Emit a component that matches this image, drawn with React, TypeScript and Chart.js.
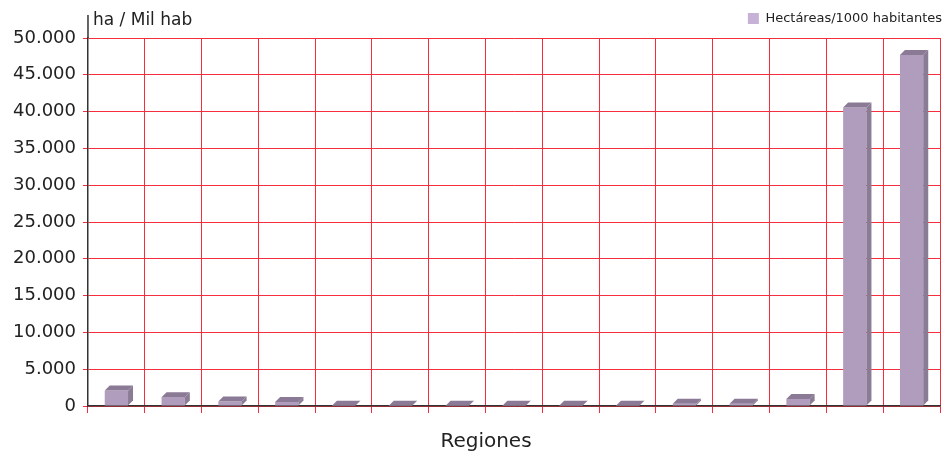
import React, { useEffect, useRef } from "react";
import { Chart, registerables } from "chart.js";
Chart.register(...registerables);

const categories = [
  "Arica y Parinacota", "Tarapacá", "Antofagasta", "Atacama", "Coquimbo",
  "Valparaíso", "Metropolitana", "O'Higgins", "Maule", "Biobío",
  "Araucanía", "Los Ríos", "Los Lagos", "Aysén", "Magallanes",
];
const haPerThousand = [2100, 1200, 600, 550, 40, 40, 40, 40, 40, 40, 300, 300, 950, 40550, 47700];
const yMin = 0;
const yMax = 50000;
const yStep = 5000;
const seriesLabel = "Hectáreas/1000 habitantes";
const yAxisLabel = "ha / Mil hab";
const xAxisTitle = "Regiones";

const FONT = "'DejaVu Sans', sans-serif";
const GRID = "rgb(245,45,60)";

const bar3d = {
  id: "bar3d",
  afterDatasetsDraw(chart: any) {
    const meta = chart.getDatasetMeta(0);
    const ctx = chart.ctx;
    const d = 5;
    meta.data.forEach((bar: any) => {
      const { x, y, base, width } = bar.getProps(["x", "y", "base", "width"], true);
      const l = x - width / 2;
      const r = x + width / 2;
      ctx.save();
      ctx.fillStyle = "#8a7c95";
      ctx.beginPath();
      ctx.moveTo(r, y);
      ctx.lineTo(r + d, y - d);
      ctx.lineTo(r + d, base - d);
      ctx.lineTo(r, base);
      ctx.closePath();
      ctx.fill();
      ctx.fillStyle = "#8b7a96";
      ctx.beginPath();
      ctx.moveTo(l, y);
      ctx.lineTo(l + d, y - d);
      ctx.lineTo(r + d, y - d);
      ctx.lineTo(r, y);
      ctx.closePath();
      ctx.fill();
      ctx.restore();
    });
  },
};

const extras = {
  id: "extras",
  afterLayout(chart: any) {
    const lg = chart.legend;
    if (lg) {
      lg.left += 12;
      lg.right += 12;
      lg.top -= 3;
      lg.bottom -= 3;
    }
  },
  afterDraw(chart: any) {
    const { ctx, chartArea } = chart;
    ctx.save();
    ctx.strokeStyle = "#333";
    ctx.lineWidth = 1.5;
    ctx.beginPath();
    ctx.moveTo(chartArea.left, 15);
    ctx.lineTo(chartArea.left, chartArea.top);
    ctx.stroke();
    ctx.fillStyle = "#222";
    ctx.font = `17px ${FONT}`;
    ctx.textBaseline = "middle";
    ctx.textAlign = "left";
    ctx.fillText(yAxisLabel, chartArea.left + 5, 21);
    ctx.font = `20px ${FONT}`;
    ctx.textAlign = "center";
    ctx.fillText(xAxisTitle, 486, 442);
    ctx.restore();
  },
};

export default function App() {
  const ref = useRef<HTMLCanvasElement | null>(null);
  useEffect(() => {
    if (!ref.current) return;
    const chart = new Chart(ref.current, {
      type: "bar",
      data: {
        labels: categories,
        datasets: [
          {
            label: seriesLabel,
            data: haPerThousand,
            backgroundColor: "#b09cbc",
            borderWidth: 0,
            categoryPercentage: 1,
            barPercentage: 0.41,
          },
        ],
      },
      plugins: [bar3d, extras],
      options: {
        responsive: false,
        animation: false,
        maintainAspectRatio: false,
        layout: { padding: { left: 6, right: 4, top: 5, bottom: 43 } },
        plugins: {
          tooltip: { enabled: false },
          legend: {
            position: "top",
            align: "end",
            labels: {
              boxWidth: 11,
              boxHeight: 11,
              padding: 10,
              color: "#222",
              font: { family: FONT, size: 13 },
              generateLabels: (c: any) =>
                Chart.defaults.plugins.legend.labels
                  .generateLabels(c)
                  .map((it: any) => ({ ...it, fillStyle: "#c6b2d6", strokeStyle: "#c6b2d6", lineWidth: 0 })),
            },
          },
        },
        scales: {
          x: {
            offset: true,
            grid: { color: GRID, offset: true, tickLength: 7, lineWidth: 1 },
            border: { color: "#333", width: 1.5 },
            ticks: { display: false },
            title: { display: false },
          },
          y: {
            min: yMin,
            max: yMax,
            grid: { color: GRID, tickLength: 5, lineWidth: 1 },
            border: { color: "#333", width: 1.5 },
            ticks: {
              stepSize: yStep,
              padding: 7,
              color: "#222",
              font: { family: FONT, size: 18 },
              callback: (v: any) => Number(v).toLocaleString("de-DE"),
            },
          },
        },
      },
    });
    return () => chart.destroy();
  }, []);
  return (
    <div style={{ position: "fixed", left: 0, top: 0, width: 944, height: 456, background: "#fff" }}>
      <canvas ref={ref} width={944} height={456} style={{ display: "block" }} />
    </div>
  );
}
